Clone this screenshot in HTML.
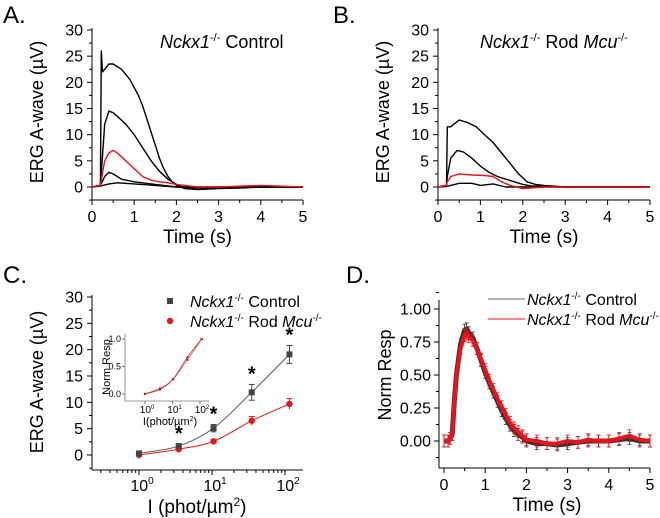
<!DOCTYPE html>
<html><head><meta charset="utf-8"><style>
body{margin:0;background:#fff}
svg{display:block;font-family:"Liberation Sans",Arial,sans-serif}
</style></head><body>
<svg id="fig" width="660" height="518" viewBox="0 0 660 518" xmlns="http://www.w3.org/2000/svg"></svg>
<script>
// ---------- Panel A data (time s, µV) ----------
const aT1=[0,0.1,0.2,0.22,0.25,0.3,0.4,0.5,0.6,0.7,0.8,0.9,1.0,1.1,1.2,1.3,1.4,1.5,1.6,1.7,1.8,1.9,2.0,2.2,2.5,3,3.5,4,4.5,5];
const aV1=[0,0.2,0.3,26,22,22.5,23.5,23.5,23,22.5,21.5,20.5,19,17.5,15.5,13,10.5,8,5.5,3.5,2,1,0.3,-0.3,-0.5,-0.3,-0.2,0,0,0];
const aT2=[0,0.1,0.2,0.25,0.3,0.4,0.5,0.6,0.8,1.0,1.2,1.4,1.6,1.8,2.0,2.2,3,4,5];
const aV2=[0,0.2,0.3,6,12,14.5,14.2,13.5,12,10,7.5,5,3,1.5,0.5,-0.2,-0.2,0,0];
const aTr=[0,0.1,0.2,0.3,0.4,0.5,0.6,0.8,1.0,1.2,1.4,1.6,1.8,2.0,2.5,3,4,5];
const aVr=[0,0.2,0.3,5,6.5,7,6.5,5,3.5,2,1.3,1,0.8,0.5,0,0,0.3,0];
const aT4=[0,0.2,0.3,0.4,0.5,0.7,1,1.5,2,3,5];
const aV4=[0,0.3,2,2.8,2.5,1.5,1,0.5,0,-0.1,0];
const aT5=[0,0.2,0.4,0.6,1,1.5,2,3,5];
const aV5=[0,0.2,0.6,0.8,0.6,0.3,0,0,0];
// ---------- Panel B data ----------
const bT1=[0,0.1,0.2,0.22,0.3,0.5,0.7,0.9,1.1,1.3,1.5,1.7,1.9,2.1,2.3,2.5,3,4,5];
const bV1=[0,0.2,0.3,11.5,11.5,12.8,12.3,11.5,10,8.5,6.5,4.5,2.5,1,0.5,0.3,0,0,0];
const bT2=[0,0.2,0.22,0.3,0.45,0.6,0.8,1.0,1.2,1.4,1.6,1.8,2.0,2.2,3,5];
const bV2=[0,0.3,2,5.5,7,6.7,5.5,4,2.8,2,1.5,1,0.5,0.2,0,0];
const bTr=[0,0.2,0.22,0.3,0.5,0.8,1.1,1.3,1.5,1.7,2.0,2.5,3,4,5];
const bVr=[0,0.3,1,2,2.5,2.3,2.2,2,1,0.3,-0.3,0,0,0,0];
const bT4=[0,0.2,0.3,0.5,0.8,1.0,1.3,1.6,2,3,5];
const bV4=[0,0.1,0.3,0.7,0.7,0.3,0.6,0,0,0,0];
// ---------- Panel C data ----------
const cInt=[1,3.5,10.5,35,115];
const cCtl=[0.3,1.7,5.1,11.9,19.1];
const cCtlErr=[0.3,0.4,0.7,1.5,1.7];
const cRod=[0.0,1.1,2.6,6.5,9.7];
const cRodErr=[0.2,0.3,0.3,0.8,1.0];
const cNormCtl=[0.0,0.08,0.27,0.62,1.0];
const cNormRod=[0.0,0.1,0.27,0.67,1.0];
// ---------- Panel D data ----------
const dT=[0,0.1,0.15,0.2,0.25,0.3,0.4,0.5,0.55,0.6,0.7,0.8,0.9,1.0,1.1,1.2,1.3,1.4,1.5,1.6,1.7,1.8,1.9,2.0,2.25,2.5,2.75,3,3.25,3.5,3.75,4,4.25,4.5,4.75,5];
const dCtl=[0,0,0.02,0.05,0.3,0.5,0.73,0.84,0.85,0.82,0.78,0.7,0.61,0.52,0.44,0.37,0.3,0.23,0.17,0.12,0.08,0.05,0.03,0,-0.02,-0.02,-0.03,-0.02,-0.01,0,0,0,0.01,0.02,0,0];
const dRod=[0,0,0.02,0.05,0.3,0.5,0.7,0.8,0.81,0.79,0.76,0.7,0.62,0.54,0.46,0.39,0.32,0.26,0.2,0.14,0.1,0.07,0.04,0.01,0,-0.02,-0.02,0,-0.01,0.01,0,0,0.02,0.04,0.01,0];

const NS='http://www.w3.org/2000/svg';
const svg=document.getElementById('fig');
function el(tag,attrs,parent){const e=document.createElementNS(NS,tag);for(const k in attrs)e.setAttribute(k,attrs[k]);(parent||svg).appendChild(e);return e;}
function txt(s,x,y,size,anchor,parent,extra){const t=el('text',Object.assign({x:x,y:y,'font-size':size,'text-anchor':anchor||'middle',fill:'#000'},extra||{}),parent);t.innerHTML=s;return t;}
function lin(d0,d1,p0,p1){return v=>p0+(v-d0)*(p1-p0)/(d1-d0);}
function logs(d0,d1,p0,p1){return v=>p0+(Math.log10(v)-Math.log10(d0))*(p1-p0)/(Math.log10(d1)-Math.log10(d0));}
function poly(xs,ys,X,Y,color,w,g,name){
  const pts=xs.map((t,i)=>X(t).toFixed(1)+','+Y(ys[i]).toFixed(1)).join(' ');
  const p=el('polyline',{points:pts,fill:'none',stroke:color,'stroke-width':w,'stroke-linejoin':'round'},g);
  
  
  return p;
}
function smooth(xs,ys,color,w,g,name){
  const P=xs.map((x,i)=>[x,ys[i]]);let d='M'+P[0][0]+','+P[0][1];
  for(let i=0;i<P.length-1;i++){const p0=P[i-1]||P[i],p1=P[i],p2=P[i+1],p3=P[i+2]||P[i+1];
    d+=' C'+(p1[0]+(p2[0]-p0[0])/6)+','+(p1[1]+(p2[1]-p0[1])/6)+' '+(p2[0]-(p3[0]-p1[0])/6)+','+(p2[1]-(p3[1]-p1[1])/6)+' '+p2[0]+','+p2[1];}
  const p=el('path',{d:d,fill:'none',stroke:color,'stroke-width':w},g);
  
  
}

function timePanel(ox,xLeft,x5,letter,titleHtml,titleX,series,nm){
  const g=el('g',{});
  
  
  const X=lin(0,5,xLeft,x5), Y=lin(0,30,187,30);
  const L=txt(letter,ox+3,23,24,'start',g);
  
  el('line',{x1:xLeft,y1:28,x2:xLeft,y2:200,stroke:'#000','stroke-width':1},g);
  el('line',{x1:xLeft,y1:200,x2:x5,y2:200,stroke:'#000','stroke-width':1},g);
  for(let v=-2.5;v<=30.01;v+=2.5){const maj=(v%5===0);el('line',{x1:xLeft,x2:xLeft-(maj?5:3),y1:Y(v),y2:Y(v),stroke:'#000'},g);
    if(maj&&v>=0){const t=txt(String(v),xLeft-9,Y(v)+5.5,16,'end',g);}}
  for(let v=0;v<=5.01;v+=0.5){const maj=(Math.abs(v-Math.round(v))<1e-6);el('line',{x1:X(v),x2:X(v),y1:200,y2:200+(maj?5:3),stroke:'#000'},g);
    if(maj){const t=txt(String(Math.round(v)),X(v),222,16,'middle',g);}}
  const xt=txt('Time (s)',(xLeft+x5)/2,243,19,'middle',g);
  const yt=txt('ERG A-wave (µV)',0,0,18,'middle',g,{transform:'translate('+(xLeft-49)+',112) rotate(-90)'});
  const tt=txt(titleHtml,titleX,48,18,'start',g);
  series.forEach((s,i)=>{poly(s[0],s[1],X,Y,s[2],1.4,g,'trace-'+(i+1));});
}
const it=s=>'<tspan font-style="italic">'+s+'</tspan>';
const sup='<tspan font-size="11" dy="-7">-/-</tspan><tspan dy="7"> </tspan>';
const sup2='<tspan font-size="10" dy="-6">-/-</tspan><tspan dy="6"> </tspan>';
timePanel(0,92,303,'A.',it('Nckx1')+sup+'Control',160,[[aT5,aV5,'#000'],[aT4,aV4,'#000'],[aT2,aV2,'#000'],[aT1,aV1,'#000'],[aTr,aVr,'#e8141b']],'panel-a');
timePanel(330,438,650,'B.',it('Nckx1')+sup+'Rod '+it('Mcu')+'<tspan font-size="11" dy="-7">-/-</tspan>',480,[[bT4,bV4,'#000'],[bT2,bV2,'#000'],[bT1,bV1,'#000'],[bTr,bVr,'#e8141b']],'panel-b');

// Panel C
(function(){
  const g=el('g',{});
  
  
  const X=logs(1,100,139,285), Y=lin(0,30,455,297);
  const L=txt('C.',3,283,24,'start',g);
  el('line',{x1:92,y1:295,x2:92,y2:470,stroke:'#000'},g);
  el('line',{x1:92,y1:470,x2:303,y2:470,stroke:'#000'},g);
  for(let v=-2.5;v<=30.01;v+=2.5){const maj=(v%5===0);el('line',{x1:92,x2:92-(maj?5:3),y1:Y(v),y2:Y(v),stroke:'#000'},g);
    if(maj&&v>=0){const t=txt(String(v),83,Y(v)+5.5,16,'end',g);}}
  for(let e=-1;e<=2;e++)for(let m=1;m<10;m++){const v=m*Math.pow(10,e);const x=X(v);if(x<92||x>303)continue;
    el('line',{x1:x,x2:x,y1:470,y2:470+(m===1?5:3),stroke:'#000'},g);
    if(m===1&&e>=0){const t=txt('10<tspan font-size="10" dy="-7">'+e+'</tspan>',x+3,491,16,'middle',g);}}
  const xt=txt('I (phot/µm<tspan font-size="12" dy="-7">2</tspan><tspan dy="7">)</tspan>',197,513,19,'middle',g);
  const yt=txt('ERG A-wave (µV)',0,0,18,'middle',g,{transform:'translate(43,382) rotate(-90)'});
  smooth(cInt.map(X),cCtl.map(Y),'#555',1,g,'fit-control');
  smooth(cInt.map(X),cRod.map(Y),'#e8141b',1,g,'fit-rod-mcu');
  cInt.forEach((v,i)=>{
    const x=X(v);
    el('line',{x1:x,x2:x,y1:Y(cRod[i]-cRodErr[i]),y2:Y(cRod[i]+cRodErr[i]),stroke:'#e8141b'},g);
    el('line',{x1:x-3,x2:x+3,y1:Y(cRod[i]+cRodErr[i]),y2:Y(cRod[i]+cRodErr[i]),stroke:'#e8141b'},g);
    const c=el('circle',{cx:x,cy:Y(cRod[i]),r:3.2,fill:'#e8141b'},g);
    
    el('line',{x1:x,x2:x,y1:Y(cCtl[i]-cCtlErr[i]),y2:Y(cCtl[i]+cCtlErr[i]),stroke:'#444'},g);
    el('line',{x1:x-3,x2:x+3,y1:Y(cCtl[i]+cCtlErr[i]),y2:Y(cCtl[i]+cCtlErr[i]),stroke:'#444'},g);
    el('line',{x1:x-3,x2:x+3,y1:Y(cCtl[i]-cCtlErr[i]),y2:Y(cCtl[i]-cCtlErr[i]),stroke:'#444'},g);
    const r=el('rect',{x:x-3,y:Y(cCtl[i])-3,width:6,height:6,fill:'#444'},g);
    
    if(i>0){const s=txt('*',x,Y(cCtl[i]+cCtlErr[i])-4,20,'middle',g,{'font-weight':'bold'});}
  });
  const lg=el('g',{},g);
  el('rect',{x:167,y:298,width:6,height:6,fill:'#444'},lg);
  txt(it('Nckx1')+sup2+'Control',190,307,16,'start',lg);
  el('circle',{cx:170,cy:321,r:3.2,fill:'#e8141b'},lg);
  txt(it('Nckx1')+sup2+'Rod '+it('Mcu')+'<tspan font-size="10" dy="-6">-/-</tspan>',190,327,16,'start',lg);
  const ig=el('g',{},g);
  const IX=logs(1,100,145,200), IY=lin(0,1,394,339);
  el('line',{x1:125,y1:334,x2:125,y2:401,stroke:'#777','stroke-width':0.8},ig);
  el('line',{x1:125,y1:401,x2:209,y2:401,stroke:'#777','stroke-width':0.8},ig);
  [0,0.5,1].forEach(v=>{el('line',{x1:125,x2:122,y1:IY(v),y2:IY(v),stroke:'#777'},ig);txt(v.toFixed(1),121,IY(v)+3,9,'end',ig);});
  [0,1,2].forEach(e=>{const x=IX(Math.pow(10,e));el('line',{x1:x,x2:x,y1:401,y2:404,stroke:'#777'},ig);txt('10<tspan font-size="6" dy="-4">'+e+'</tspan>',x+2,413,10,'middle',ig);});
  txt('I(phot/µm<tspan font-size="7" dy="-4">2</tspan><tspan dy="4">)</tspan>',170,425,11,'middle',ig);
  txt('Norm Resp',0,0,11,'middle',ig,{transform:'translate(110,367) rotate(-90)'});
  smooth(cInt.map(IX),cNormCtl.map(IY),'#888',0.8,ig,'inset-fit-control');
  smooth(cInt.map(IX),cNormRod.map(IY),'#e8141b',0.8,ig,'inset-fit-rod');
  cInt.forEach((v,i)=>{el('rect',{x:IX(v)-1,y:IY(cNormCtl[i])-1,width:2,height:2,fill:'#444'},ig);el('circle',{cx:IX(v),cy:IY(cNormRod[i]),r:1.2,fill:'#e8141b'},ig);});
})();

// Panel D
(function(){
  const g=el('g',{});
  
  
  const X=lin(0,5,444,650), Y=lin(0,1,441,309);
  const L=txt('D.',346,283,24,'start',g);
  el('line',{x1:439,y1:300,x2:439,y2:468,stroke:'#000'},g);
  el('line',{x1:439,y1:468,x2:650,y2:468,stroke:'#000'},g);
  for(let v=-0.125;v<=1.13;v+=0.125){const maj=Math.abs(v*4-Math.round(v*4))<1e-6;el('line',{x1:439,x2:439-(maj?5:3),y1:Y(v),y2:Y(v),stroke:'#000'},g);
    if(maj&&v>-0.01&&v<1.01){const t=txt(v.toFixed(2),431,Y(v)+5.5,16,'end',g);}}
  for(let v=0;v<=5.01;v+=0.5){const maj=Math.abs(v-Math.round(v))<1e-6;el('line',{x1:X(v),x2:X(v),y1:468,y2:468+(maj?5:3),stroke:'#000'},g);
    if(maj){const t=txt(String(Math.round(v)),X(v),490,16,'middle',g);}}
  const xt=txt('Time (s)',547,511,19,'middle',g);
  const yt=txt('Norm Resp',0,0,18,'middle',g,{transform:'translate(391,375) rotate(-90)'});
  function errs(vals,color,name){
    const eg=el('g',{},g);
    dT.forEach((t,i)=>{const x=X(t),e=0.045;el('line',{x1:x,x2:x,y1:Y(vals[i]-e),y2:Y(vals[i]+e),stroke:color,'stroke-width':0.8},eg);
      el('line',{x1:x-2,x2:x+2,y1:Y(vals[i]+e),y2:Y(vals[i]+e),stroke:color,'stroke-width':0.8},eg);
      el('line',{x1:x-2,x2:x+2,y1:Y(vals[i]-e),y2:Y(vals[i]-e),stroke:color,'stroke-width':0.8},eg);});
  }
  errs(dCtl,'#333','errorbars-control');
  poly(dT,dCtl,X,Y,'#333',5,g,'trace-control');
  errs(dRod,'#e8141b','errorbars-rod-mcu');
  poly(dT,dRod,X,Y,'#e8141b',4,g,'trace-rod-mcu');
  const lg=el('g',{},g);
  el('line',{x1:488,x2:525,y1:299,y2:299,stroke:'#666'},lg);
  txt(it('Nckx1')+sup2+'Control',527,305,16,'start',lg);
  el('line',{x1:488,x2:525,y1:319,y2:319,stroke:'#e8141b'},lg);
  txt(it('Nckx1')+sup2+'Rod '+it('Mcu')+'<tspan font-size="10" dy="-6">-/-</tspan>',527,325,16,'start',lg);
})();
</script>
</body></html>
